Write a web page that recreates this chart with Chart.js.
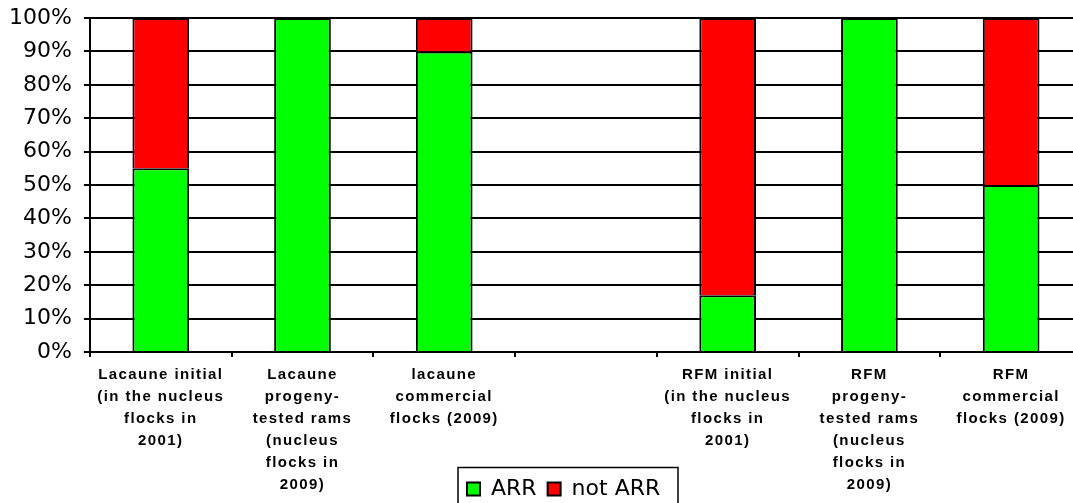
<!DOCTYPE html>
<html>
<head>
<meta charset="utf-8">
<script src="https://cdn.jsdelivr.net/npm/chart.js@4.4.1/dist/chart.umd.min.js"></script>
<style>
  html, body { margin: 0; padding: 0; background: #fff; overflow: hidden; }
  canvas { display: block; }
</style>
</head>
<body>
<canvas id="arrChart" width="1083" height="503"></canvas>
<script>
const categories = [
    ['Lacaune initial', '(in the nucleus', 'flocks in', '2001)'],
    ['Lacaune', 'progeny-', 'tested rams', '(nucleus', 'flocks in', '2009)'],
    ['lacaune', 'commercial', 'flocks (2009)'],
    '',
    ['RFM initial', '(in the nucleus', 'flocks in', '2001)'],
    ['RFM', 'progeny-', 'tested rams', '(nucleus', 'flocks in', '2009)'],
    ['RFM', 'commercial', 'flocks (2009)']
];
const arrValues = [55, 100, 90, null, 17, 100, 50];
const notArrValues = [45, 0, 10, null, 83, 0, 50];
const seriesNames = ['ARR', 'not ARR'];

// x labels are spaced out in the original, canvas letterSpacing does that
const spacedLabels = {
    id: 'spacedLabels',
    beforeDraw(chart) {
        const xs = chart.scales.x;
        if (!xs || xs._spaced) return;
        const orig = xs.drawLabels;
        xs.drawLabels = function(area) {
            const ctx = this.ctx;
            ctx.save();
            ctx.letterSpacing = '1.4px';
            orig.call(this, area);
            ctx.restore();
        };
        xs._spaced = true;
    }
};

// legend sits in the label band, framed like the original
const legendBox = {
    id: 'legendBox',
    afterLayout(chart) {
        const lg = chart.legend;
        if (!lg) return;
        const h = lg.height;
        lg.left = 456;
        lg.right = 456 + lg.width;
        lg.top = 467;
        lg.bottom = 467 + h;
    },
    afterDraw(chart) {
        const ctx = chart.ctx;
        ctx.save();
        ctx.strokeStyle = '#000';
        ctx.lineWidth = 1.5;
        ctx.strokeRect(458, 467.5, 220, 50);
        ctx.restore();
    }
};

new Chart(document.getElementById('arrChart').getContext('2d'), {
    type: 'bar',
    data: {
        labels: categories,
        datasets: [
            {
                label: seriesNames[0],
                data: arrValues,
                backgroundColor: '#00ff00',
                borderColor: '#000',
                borderWidth: 2,
                borderSkipped: 'bottom'
            },
            {
                label: seriesNames[1],
                data: notArrValues,
                backgroundColor: '#ff0000',
                borderColor: '#000',
                borderWidth: 2,
                borderSkipped: 'bottom'
            }
        ]
    },
    options: {
        responsive: false,
        animation: false,
        devicePixelRatio: 1,
        categoryPercentage: 1,
        barPercentage: 0.4,
        layout: {
            padding: { top: 0, left: -3, right: 1, bottom: -43 }
        },
        plugins: {
            legend: {
                position: 'bottom',
                align: 'start',
                labels: {
                    boxWidth: 13,
                    boxHeight: 13,
                    padding: 11,
                    color: '#000',
                    font: { family: 'DejaVu Sans', size: 22 }
                }
            },
            tooltip: { enabled: false }
        },
        scales: {
            x: {
                stacked: true,
                grid: {
                    display: true,
                    drawOnChartArea: false,
                    drawTicks: true,
                    tickLength: 5,
                    color: '#000',
                    lineWidth: 2
                },
                border: { display: true, color: '#000', width: 2 },
                ticks: {
                    color: '#000',
                    maxRotation: 0,
                    autoSkip: false,
                    padding: 7,
                    font: { family: 'Liberation Sans', size: 15, weight: 'bold', lineHeight: 1.467 }
                }
            },
            y: {
                stacked: true,
                min: 0,
                max: 100,
                grid: {
                    color: '#000',
                    lineWidth: 2,
                    tickLength: 6
                },
                border: { display: true, color: '#000', width: 2 },
                ticks: {
                    stepSize: 10,
                    padding: 12,
                    color: '#000',
                    font: { family: 'DejaVu Sans', size: 22, lineHeight: 0.55 },
                    callback: v => v + '%'
                }
            }
        }
    },
    plugins: [spacedLabels, legendBox]
});
</script>
</body>
</html>
